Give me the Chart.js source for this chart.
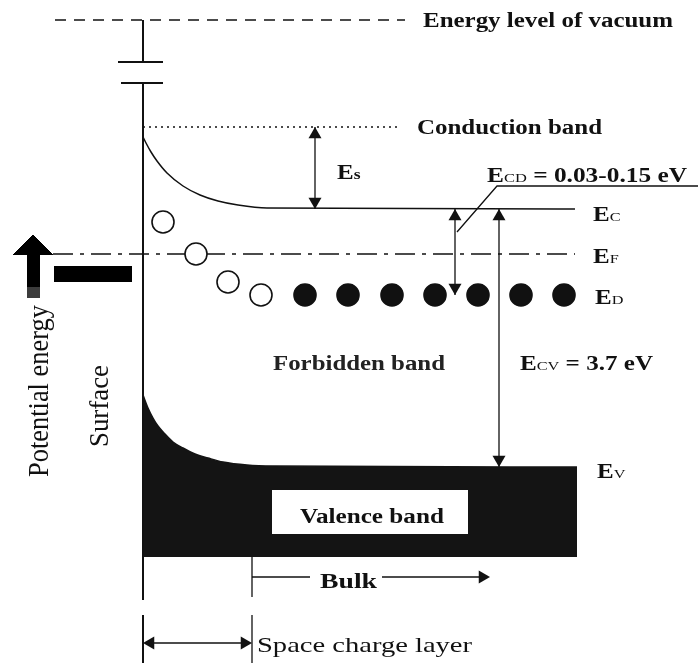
<!DOCTYPE html>
<html>
<head>
<meta charset="utf-8">
<script src="https://cdn.jsdelivr.net/npm/chart.js@4/dist/chart.umd.min.js"></script>
<style>
  html, body { margin: 0; padding: 0; background: #fff; }
  canvas { display: block; }
</style>
</head>
<body>
<canvas id="bands" width="698" height="663"></canvas>
<script>
// ---- Energy levels (arbitrary units, higher = more energetic) ----
const levelNames  = ['vacuum', 'conduction band', 'Ec', 'EF', 'ED', 'Ev', 'valence floor'];
const levelEnergy = [643, 536, 454, 409, 368, 196, 106];
const [E_VAC, E_CB, E_C, E_F, E_D, E_V, E_FLOOR] = levelEnergy;

// ---- Band bending near the surface (depth from surface, energy) ----
const ecDepth  = [0, 3, 8, 14, 24, 40, 57, 75, 95, 124, 432];
const ecEnergy = [526, 520, 511, 502, 490, 477, 468, 462, 458, 455, 454];
const evDepth  = [0, 5, 10, 15, 22, 30, 40, 52, 65, 80, 104, 130, 434];
const evEnergy = [268, 255, 245, 237, 229, 221, 215, 209, 205, 201, 198, 197, 196];

// ---- Donor states: open = ionised near the surface, filled = occupied in the bulk ----
const donorDepth   = [20, 53, 85, 118, 162, 205, 249, 292, 335, 378, 421];
const donorEnergy  = [441, 409, 381, 368, 368, 368, 368, 368, 368, 368, 368];
const donorIonised = [true, true, true, true, false, false, false, false, false, false, false];

// ---- Energy gaps marked with double arrows ----
const gapNames  = ['Es', 'ECD', 'ECV'];
const gapDepth  = [172, 312, 356];
const gapTop    = [E_CB, E_C, E_C];
const gapBottom = [E_C, E_D, E_V];

// ---- Regions along the depth axis ----
const surfaceDepth     = 0;
const spaceChargeDepth = 109;
const bulkArrowEnd     = 347;

const ink = '#111';
const pts = (xs, ys) => xs.map((x, i) => ({ x, y: ys[i] }));
function path(points, extra) {
  return Object.assign({
    data: points, borderColor: ink, borderWidth: 1.5, pointRadius: 0,
    fill: false, tension: 0, order: 5
  }, extra || {});
}

// arrow heads: triangles whose tips sit on the arrow ends
const HEAD = 7.5;
const heads = [];
gapDepth.forEach((d, i) => {
  heads.push({ x: d, y: gapTop[i] - HEAD, r: 0 });
  heads.push({ x: d, y: gapBottom[i] + HEAD, r: 180 });
});
heads.push({ x: surfaceDepth + HEAD, y: 20, r: 270 });
heads.push({ x: spaceChargeDepth - HEAD, y: 20, r: 90 });
heads.push({ x: bulkArrowEnd - HEAD, y: 86, r: 90 });

const datasets = [
  // vacuum level
  path([{ x: -88, y: E_VAC }, { x: 262, y: E_VAC }], { borderDash: [11, 8] }),
  // surface line with axis break
  path([{ x: surfaceDepth, y: E_VAC }, { x: surfaceDepth, y: 601 }], { borderWidth: 2 }),
  path([{ x: -25, y: 601 }, { x: 20, y: 601 }], { borderWidth: 2 }),
  path([{ x: -22, y: 580 }, { x: 20, y: 580 }], { borderWidth: 2 }),
  path([{ x: surfaceDepth, y: 580 }, { x: surfaceDepth, y: 63 }], { borderWidth: 2 }),
  path([{ x: surfaceDepth, y: 48 }, { x: surfaceDepth, y: 0 }], { borderWidth: 2 }),
  // conduction band reference (dotted)
  path([{ x: surfaceDepth, y: E_CB }, { x: 257, y: E_CB }], { borderDash: [2, 4] }),
  // conduction band edge with surface bending
  path(pts(ecDepth, ecEnergy), { cubicInterpolationMode: 'monotone' }),
  // Fermi level (dash-dot)
  path([{ x: -90, y: E_F }, { x: 432, y: E_F }], { borderDash: [20, 7, 4, 7] }),
  // valence band, filled down to its floor
  path(pts(evDepth, evEnergy), {
    cubicInterpolationMode: 'monotone', fill: { value: E_FLOOR },
    backgroundColor: '#141414', borderColor: '#141414', order: 9
  }),
  // white plate behind the "Valence band" caption
  path([{ x: 129, y: 173 }, { x: 325, y: 173 }], {
    fill: { value: 129 }, backgroundColor: '#fff', borderColor: 'rgba(0,0,0,0)', order: 8
  }),
  // gap arrows
  ...gapDepth.map((d, i) => path([{ x: d, y: gapTop[i] }, { x: d, y: gapBottom[i] }], { borderWidth: 1.3 })),
  // leader for the ECD caption
  path([{ x: 314, y: 431 }, { x: 354, y: 477 }, { x: 555, y: 477 }], { borderWidth: 1.3 }),
  // bulk arrow
  path([{ x: spaceChargeDepth, y: 86 }, { x: 167, y: 86 }], { borderWidth: 1.3 }),
  path([{ x: 239, y: 86 }, { x: bulkArrowEnd - 6, y: 86 }], { borderWidth: 1.3 }),
  // space-charge boundary and arrow
  path([{ x: spaceChargeDepth, y: E_FLOOR }, { x: spaceChargeDepth, y: 66 }], { borderWidth: 1.3 }),
  path([{ x: spaceChargeDepth, y: 48 }, { x: spaceChargeDepth, y: 0 }], { borderWidth: 1.3 }),
  path([{ x: surfaceDepth + 4, y: 20 }, { x: spaceChargeDepth - 4, y: 20 }], { borderWidth: 1.3 }),
  // potential-energy arrow and bar
  path([{ x: -130, y: 408 }, { x: -110, y: 428 }, { x: -90, y: 408 }], {
    fill: { value: 408 }, backgroundColor: '#000', borderColor: '#000', borderWidth: 1
  }),
  path([{ x: -109.5, y: 409 }, { x: -109.5, y: 376 }], { borderWidth: 13, borderColor: '#000' }),
  path([{ x: -109.5, y: 376 }, { x: -109.5, y: 365 }], { borderWidth: 13, borderColor: '#3c3c3c' }),
  path([{ x: -89, y: 389 }, { x: -11, y: 389 }], { borderWidth: 16, borderColor: '#000' }),
  // donor states
  {
    data: pts(donorDepth, donorEnergy), showLine: false, order: 1,
    pointRadius: 11, pointStyle: 'circle', pointBorderColor: ink, pointBorderWidth: 1.6,
    pointBackgroundColor: donorIonised.map(v => (v ? '#fff' : ink))
  },
  // arrow heads
  {
    data: heads.map(h => ({ x: h.x, y: h.y })), showLine: false, order: 0,
    pointStyle: 'triangle', pointRadius: HEAD, pointRotation: heads.map(h => h.r),
    pointBackgroundColor: ink, pointBorderColor: ink, pointBorderWidth: 0
  }
];

// ---- Captions, placed in data coordinates ----
const serif = "'Liberation Serif', 'Times New Roman', serif";
const captions = [
  { x: 280, y: 636, runs: [['Energy level of vacuum', 20, 'bold']], width: 250 },
  { x: 274, y: 529, runs: [['Conduction band', 20, 'bold']], width: 185 },
  { x: 194, y: 484, runs: [['E', 20, 'bold'], ['s', 14, 'bold']] },
  { x: 344, y: 481, runs: [['E', 20, 'bold'], ['CD', 13, 'normal'], [' = 0.03-0.15 eV', 20, 'bold']], width: 200 },
  { x: 450, y: 442, runs: [['E', 20, 'bold'], ['C', 13, 'normal']] },
  { x: 450, y: 400, runs: [['E', 20, 'bold'], ['F', 13, 'normal']] },
  { x: 452, y: 359, runs: [['E', 20, 'bold'], ['D', 13, 'normal']] },
  { x: 377, y: 293, runs: [['E', 20, 'bold'], ['CV', 13, 'normal'], [' = 3.7 eV', 20, 'bold']], width: 133 },
  { x: 454, y: 185, runs: [['E', 20, 'bold'], ['V', 13, 'normal']] },
  { x: 130, y: 293, runs: [['Forbidden band', 20, 'bold']], width: 172, color: '#222' },
  { x: 157, y: 140, runs: [['Valence band', 20, 'bold']], width: 144 },
  { x: 177, y: 75, runs: [['Bulk', 21, 'bold']], width: 57 },
  { x: 114, y: 11, runs: [['Space charge layer', 22, 'normal']], width: 215 },
  { x: -95, y: 272, rotate: -90, align: 'center', runs: [['Potential energy', 24, 'normal']], width: 172, sy: 1.25 },
  { x: -35, y: 257, rotate: -90, align: 'center', runs: [['Surface', 22, 'normal']], width: 82, sy: 1.25 }
];

const captionPlugin = {
  id: 'captions',
  afterDatasetsDraw(chart) {
    const { ctx, scales: { x: xs, y: ys } } = chart;
    captions.forEach(c => {
      ctx.save();
      ctx.translate(xs.getPixelForValue(c.x), ys.getPixelForValue(c.y));
      if (c.rotate) ctx.rotate(c.rotate * Math.PI / 180);
      let w = 0;
      const widths = c.runs.map(([t, size, weight]) => {
        ctx.font = `${weight} ${size}px ${serif}`;
        const m = ctx.measureText(t).width;
        w += m;
        return m;
      });
      const sx = c.width ? c.width / w : 1.25;
      ctx.scale(sx, c.sy || 1);
      ctx.fillStyle = c.color || ink;
      ctx.textBaseline = 'alphabetic';
      ctx.textAlign = 'left';
      let x0 = c.align === 'center' ? -w / 2 : 0;
      c.runs.forEach(([t, size, weight], i) => {
        ctx.font = `${weight} ${size}px ${serif}`;
        ctx.fillText(t, x0, 0);
        x0 += widths[i];
      });
      ctx.restore();
    });
  }
};

new Chart(document.getElementById('bands'), {
  type: 'line',
  data: { datasets },
  options: {
    responsive: false,
    animation: false,
    devicePixelRatio: 1,
    layout: { padding: 0, autoPadding: false },
    scales: {
      x: { type: 'linear', min: -143, max: 555, display: false },
      y: { type: 'linear', min: 0, max: 663, display: false }
    },
    plugins: { legend: { display: false }, tooltip: { enabled: false } }
  },
  plugins: [captionPlugin]
});
</script>
</body>
</html>
